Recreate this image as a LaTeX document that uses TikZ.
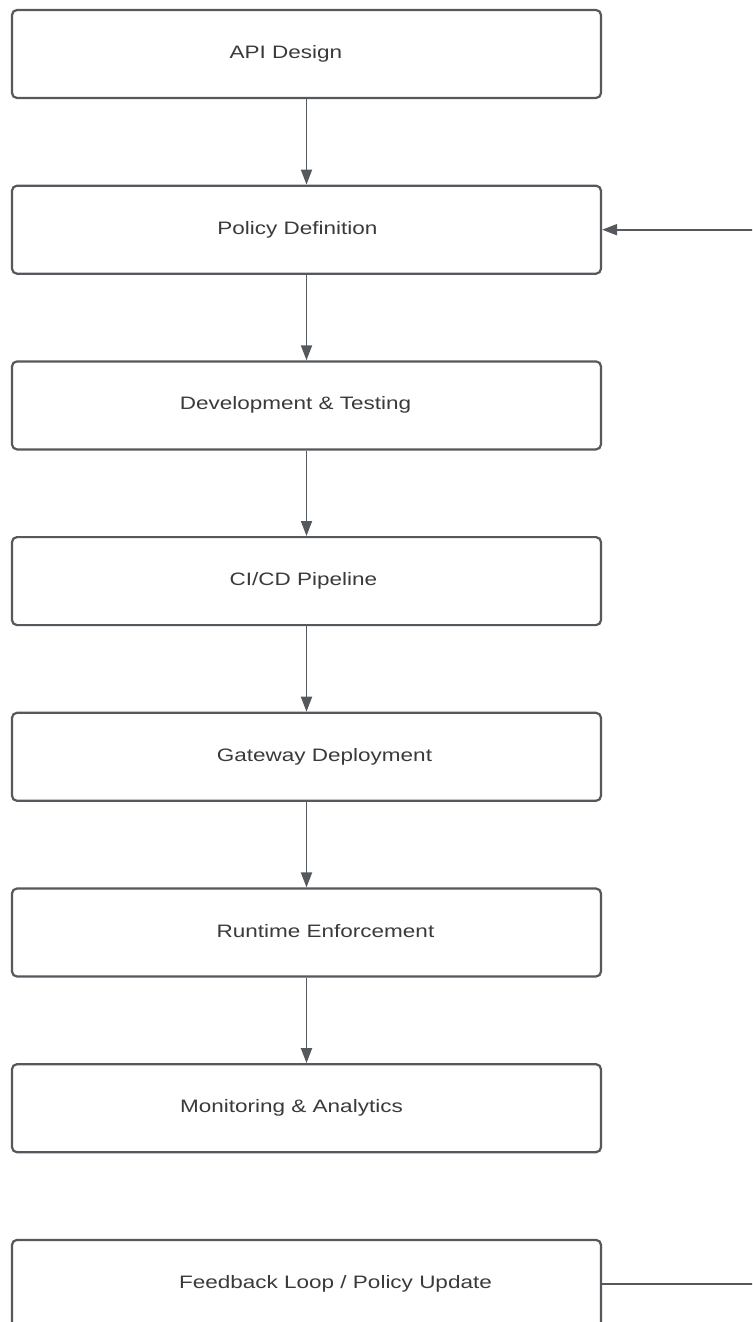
\documentclass[tikz,border=0pt]{standalone}
\usepackage{fontspec}
\setmainfont{Liberation Sans}
\newfontfamily\stagefont[FakeStretch=1.25]{Liberation Sans}
\usetikzlibrary{arrows.meta}
\definecolor{edge}{HTML}{55585C}
\definecolor{ink}{HTML}{3A3A3A}
\tikzset{
  stage/.style={draw=edge, line width=2.2pt, rounded corners=5pt, fill=white,
    minimum width=589pt, minimum height=88pt, inner sep=0pt},
  caption/.style={text=ink, font=\stagefont\fontsize{18}{20}\selectfont,
    text height=13pt, text depth=4pt, inner sep=0pt},
  flow/.style={draw=edge, line width=1.8pt, -{Triangle[length=15pt,width=11pt]}},
  loopline/.style={draw=edge, line width=1.8pt}
}
\begin{document}
\begin{tikzpicture}[x=1pt, y=-1pt]
  \useasboundingbox (0,0) rectangle (752,1322);
  \clip (0,0) rectangle (752,1322);
  \fill[white] (0,0) rectangle (752,1322);
  % pipeline stages, top to bottom
  \node[stage, label={[caption, xshift=-20.5pt]center:API Design}]             (api)  at (306.5,  54.0) {};
  \node[stage, label={[caption, xshift=-9pt]center:Policy Definition}]         (pol)  at (306.5, 229.7) {};
  \node[stage, label={[caption, xshift=-11pt]center:Development \& Testing}]   (dev)  at (306.5, 405.4) {};
  \node[stage, label={[caption, xshift=-3pt]center:CI/CD Pipeline}]            (cicd) at (306.5, 581.1) {};
  \node[stage, label={[caption, xshift=18pt]center:Gateway Deployment}]        (gw)   at (306.5, 756.8) {};
  \node[stage, label={[caption, xshift=19pt]center:Runtime Enforcement}]       (rt)   at (306.5, 932.5) {};
  \node[stage, label={[caption, xshift=-15pt]center:Monitoring \& Analytics}]  (mon)  at (306.5,1108.2) {};
  \node[stage, label={[caption, xshift=29pt]center:Feedback Loop / Policy Update}] (fb) at (306.5,1283.9) {};
  % forward flow
  \draw[flow] (api) -- (pol);
  \draw[flow] (pol) -- (dev);
  \draw[flow] (dev) -- (cicd);
  \draw[flow] (cicd) -- (gw);
  \draw[flow] (gw) -- (rt);
  \draw[flow] (rt) -- (mon);
  % feedback returns to policy definition along the right margin
  \coordinate (ret) at (780,0);
  \draw[loopline] (fb.east) -- (fb.east -| ret);
  \draw[flow] (pol.east -| ret) -- (pol.east);
\end{tikzpicture}
\end{document}
